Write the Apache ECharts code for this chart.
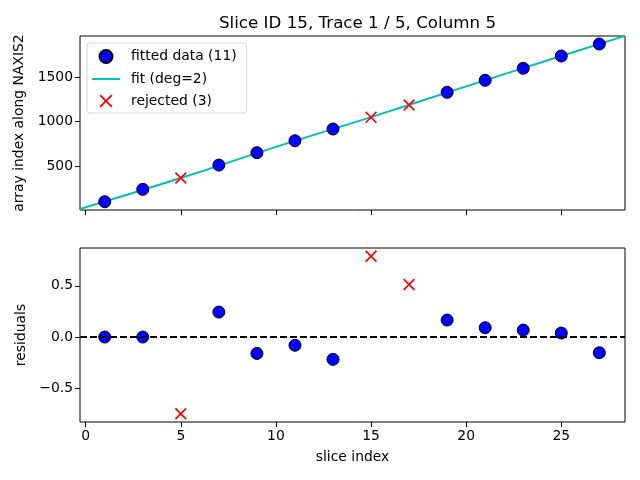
<!DOCTYPE html>
<html>
<head>
<meta charset="utf-8">
<script src="https://cdn.jsdelivr.net/npm/echarts@6/dist/echarts.min.js"></script>
<style>
html, body { margin: 0; padding: 0; background: #fff; }
#main { width: 640px; height: 480px; }
</style>
</head>
<body>
<div id="main"></div>
<script>
// 拟合点 / 剔除点
var sliceFit = [1, 3, 7, 9, 11, 13, 19, 21, 23, 25, 27];
var rowFit = [99, 238, 511, 650, 784, 916, 1328, 1463, 1598, 1736, 1871];
var residFit = [0.0, 0.0, 0.244, -0.16, -0.08, -0.218, 0.166, 0.091, 0.068, 0.039, -0.153];
var sliceRej = [5, 15, 17];
var rowRej = [365, 1047, 1185];
var residRej = [-0.75, 0.79, 0.514];
// 拟合曲线
var fitLineX = [-0.3, 5, 10, 15, 20, 25, 28.35];
var fitLineY = [18, 365, 715, 1050, 1395, 1736, 1962];
// 刻度
var xTicks = [0, 5, 10, 15, 20, 25];
var yTicksTop = [500, 1000, 1500];
var yTicksBot = [-0.5, 0, 0.5];

function pairs(xs, ys) {
	var out = [];
	for (var i = 0; i < xs.length; i++) out.push([xs[i], ys[i]]);
	return out;
}

var font = 'DejaVu Sans';
var crossPath = 'path://M0,1L1,0L5,4L9,0L10,1L6,5L10,9L9,10L5,6L1,10L0,9L4,5Z';
var linePath = 'path://M0,0H28V2H0Z';

function xAxisCfg(gridIndex, showLabel, name) {
	return {
		type: 'value', gridIndex: gridIndex, min: -0.3, max: 28.35,
		name: name, nameLocation: 'middle', nameGap: 28,
		nameTextStyle: { color: '#000', fontSize: 13.9, fontFamily: font },
		axisLine: { show: false, onZero: false },
		axisTick: { show: true, inside: false, length: 5, customValues: xTicks, lineStyle: { color: '#000' } },
		axisLabel: { show: showLabel, customValues: xTicks, color: '#000', fontSize: 13.9, fontFamily: font, margin: 7 },
		splitLine: { show: false }
	};
}

function yAxisCfg(gridIndex, min, max, ticks, name, gap, fmt) {
	return {
		type: 'value', gridIndex: gridIndex, min: min, max: max,
		name: name, nameLocation: 'middle', nameGap: gap,
		nameTextStyle: { color: '#000', fontSize: 13.9, fontFamily: font },
		axisLine: { show: false, onZero: false },
		axisTick: { show: true, inside: false, length: 5, customValues: ticks, lineStyle: { color: '#000' } },
		axisLabel: { customValues: ticks, color: '#000', fontSize: 13.9, fontFamily: font, margin: 7, formatter: fmt },
		splitLine: { show: false }
	};
}

var chart = echarts.init(document.getElementById('main'));
var option = {
	animation: false,
	title: {
		text: 'Slice ID 15, Trace 1 / 5, Column 5',
		left: 352.5, top: 10, textAlign: 'center',
		textStyle: { color: '#000', fontSize: 16.7, fontWeight: 'normal', fontFamily: font }
	},
	legend: {
		orient: 'vertical', left: 87, top: 43,
		itemWidth: 28, itemHeight: 13, itemGap: 8,
		padding: [6, 10, 5, 5],
		borderColor: '#d6d6d6', borderWidth: 1, borderRadius: 3,
		textStyle: { color: '#000', fontSize: 13.9, fontFamily: font, padding: [0, 0, 0, 6] },
		data: [
			{ name: 'fitted data (11)', icon: 'circle' },
			{ name: 'fit (deg=2)', icon: linePath },
			{ name: 'rejected (3)', icon: crossPath }
		]
	},
	grid: [
		{ left: 80, right: 15, top: 36, height: 174, show: true, borderColor: '#000', borderWidth: 1 },
		{ left: 80, right: 15, top: 248, height: 174, show: true, borderColor: '#000', borderWidth: 1 }
	],
	xAxis: [
		xAxisCfg(0, false, ''),
		xAxisCfg(1, true, 'slice index')
	],
	yAxis: [
		yAxisCfg(0, 6, 1961, yTicksTop, 'array index along NAXIS2', 52, function (v) { return String(v); }),
		yAxisCfg(1, -0.83, 0.87, yTicksBot, 'residuals', 48, function (v) {
			var s = Math.abs(v).toFixed(1);
			return v < 0 ? '\u2212' + s : s;
		})
	],
	series: [
		{
			name: 'fit (deg=2)', type: 'line', xAxisIndex: 0, yAxisIndex: 0,
			data: pairs(fitLineX, fitLineY), symbol: 'none', smooth: true,
			lineStyle: { color: '#00bfbf', width: 2 }, itemStyle: { color: '#00bfbf' }, z: 2
		},
		{
			name: 'fitted data (11)', type: 'scatter', xAxisIndex: 0, yAxisIndex: 0,
			data: pairs(sliceFit, rowFit), symbol: 'circle', symbolSize: 12,
			itemStyle: { color: '#0000ff', borderColor: '#000', borderWidth: 1, opacity: 1 }, z: 3
		},
		{
			name: 'rejected (3)', type: 'scatter', xAxisIndex: 0, yAxisIndex: 0,
			data: pairs(sliceRej, rowRej), symbol: crossPath, symbolSize: 12,
			itemStyle: { color: '#ff0000', opacity: 1 }, z: 3
		},
		{
			name: 'fitted data (11)', type: 'scatter', xAxisIndex: 1, yAxisIndex: 1,
			data: pairs(sliceFit, residFit), symbol: 'circle', symbolSize: 12,
			itemStyle: { color: '#0000ff', borderColor: '#000', borderWidth: 1, opacity: 1 }, z: 3,
			markLine: {
				silent: true, symbol: 'none', label: { show: false }, z: 4,
				lineStyle: { color: '#000', width: 2, type: [7, 3] },
				data: [{ yAxis: 0 }]
			}
		},
		{
			name: 'rejected (3)', type: 'scatter', xAxisIndex: 1, yAxisIndex: 1,
			data: pairs(sliceRej, residRej), symbol: crossPath, symbolSize: 12,
			itemStyle: { color: '#ff0000', opacity: 1 }, z: 3
		}
	]
};
chart.setOption(option);
window.addEventListener('resize', function () {
	chart.resize();
});
</script>
</body>
</html>
